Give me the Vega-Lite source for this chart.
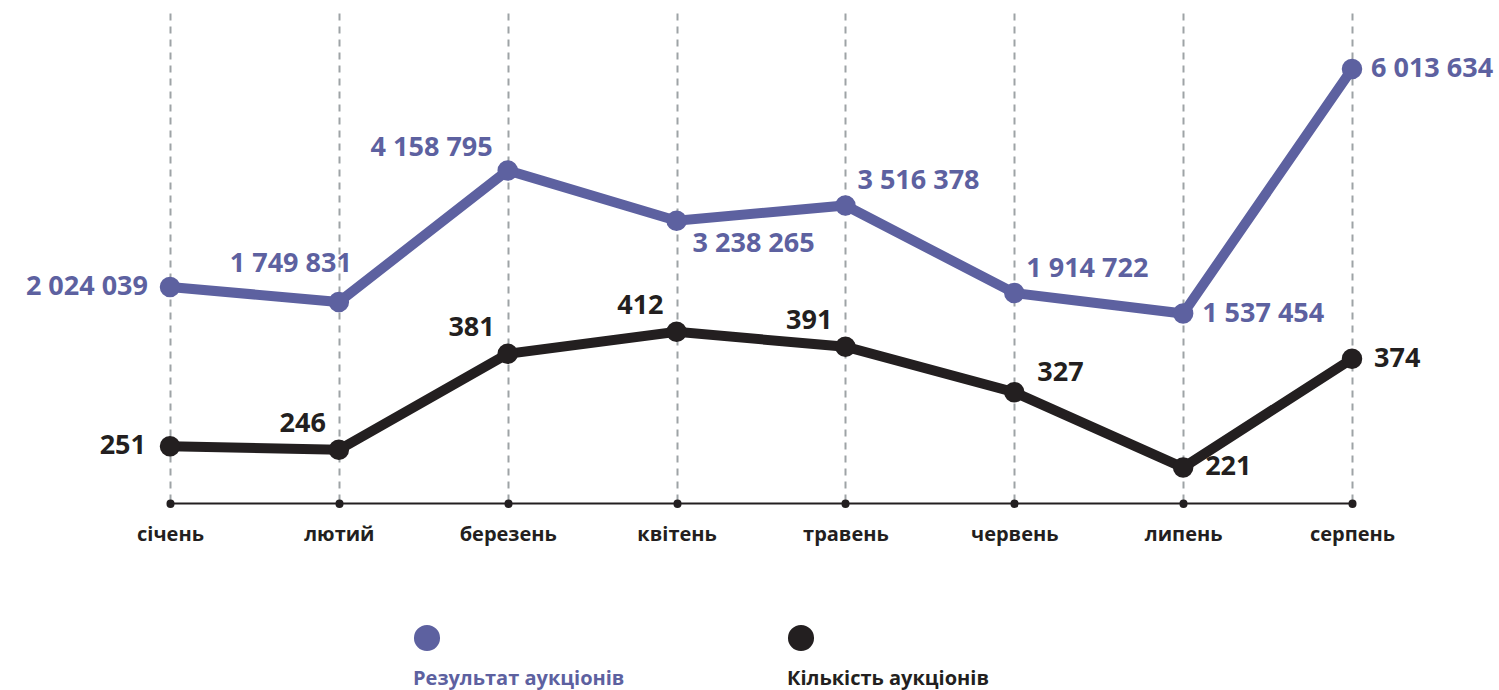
{
  "$schema": "https://vega.github.io/schema/vega-lite/v6.json",
  "padding": {"top": 13, "left": 0, "right": 0, "bottom": 0},
  "background": "white",
  "spacing": 39,
  "config": {
    "view": {"stroke": null},
    "locale": {"number": {"decimal": ",", "thousands": " ", "grouping": [3], "currency": ["", " грн"]}},
    "text": {"font": "Open Sans", "fontWeight": "bold", "fontSize": 27}
  },
  "vconcat": [
    {
      "width": 1499,
      "height": 490,
      "data": {"values": [
        {"month": "січень", "result": 2024039, "count": 251},
        {"month": "лютий", "result": 1749831, "count": 246},
        {"month": "березень", "result": 4158795, "count": 381},
        {"month": "квітень", "result": 3238265, "count": 412},
        {"month": "травень", "result": 3516378, "count": 391},
        {"month": "червень", "result": 1914722, "count": 327},
        {"month": "липень", "result": 1537454, "count": 221},
        {"month": "серпень", "result": 6013634, "count": 374}
      ]},
      "encoding": {
        "x": {
          "field": "month", "type": "ordinal", "sort": null,
          "scale": {"type": "point", "range": [170, 1352], "padding": 0},
          "axis": {
            "title": null, "labelAngle": 0,
            "domainColor": "#231f20", "domainWidth": 2,
            "tickColor": "#231f20", "tickWidth": 8, "tickSize": 0.5, "tickCap": "round",
            "grid": true, "gridColor": "#9ea3a6", "gridWidth": 2, "gridDash": [7, 6],
            "labelFont": "Open Sans", "labelFontWeight": "bold", "labelFontSize": 20,
            "labelColor": "#231f20", "labelPadding": 21
          }
        }
      },
      "layer": [
        {
          "encoding": {"y": {"field": "result", "type": "quantitative", "scale": {"domain": [-1930000, 7040000]}, "axis": null}},
          "layer": [
            {"mark": {"type": "line", "color": "#5d61a0", "strokeWidth": 10}},
            {"mark": {"type": "point", "filled": true, "opacity": 1, "color": "#5d61a0", "size": 420}},
            {"transform": [{"filter": {"field": "month", "oneOf": ["січень"]}}],
             "mark": {"type": "text", "color": "#5d61a0", "align": "right", "baseline": "middle", "dx": -22, "dy": 0},
             "encoding": {"text": {"field": "result", "type": "quantitative", "format": ",d"}}},
            {"transform": [{"filter": {"field": "month", "oneOf": ["лютий"]}}],
             "mark": {"type": "text", "color": "#5d61a0", "align": "right", "baseline": "middle", "dx": 13, "dy": -38},
             "encoding": {"text": {"field": "result", "type": "quantitative", "format": ",d"}}},
            {"transform": [{"filter": {"field": "month", "oneOf": ["березень"]}}],
             "mark": {"type": "text", "color": "#5d61a0", "align": "right", "baseline": "middle", "dx": -15, "dy": -22},
             "encoding": {"text": {"field": "result", "type": "quantitative", "format": ",d"}}},
            {"transform": [{"filter": {"field": "month", "oneOf": ["квітень"]}}],
             "mark": {"type": "text", "color": "#5d61a0", "align": "left", "baseline": "middle", "dx": 16, "dy": 23},
             "encoding": {"text": {"field": "result", "type": "quantitative", "format": ",d"}}},
            {"transform": [{"filter": {"field": "month", "oneOf": ["травень", "червень"]}}],
             "mark": {"type": "text", "color": "#5d61a0", "align": "left", "baseline": "middle", "dx": 12, "dy": -24},
             "encoding": {"text": {"field": "result", "type": "quantitative", "format": ",d"}}},
            {"transform": [{"filter": {"field": "month", "oneOf": ["липень", "серпень"]}}],
             "mark": {"type": "text", "color": "#5d61a0", "align": "left", "baseline": "middle", "dx": 19, "dy": 0},
             "encoding": {"text": {"field": "result", "type": "quantitative", "format": ",d"}}}
          ]
        },
        {
          "encoding": {"y": {"field": "count", "type": "quantitative", "scale": {"domain": [171, 861]}, "axis": null}},
          "layer": [
            {"mark": {"type": "line", "color": "#231f20", "strokeWidth": 10}},
            {"mark": {"type": "point", "filled": true, "opacity": 1, "color": "#231f20", "size": 420}},
            {"transform": [{"filter": {"field": "month", "oneOf": ["січень"]}}],
             "mark": {"type": "text", "color": "#231f20", "align": "right", "baseline": "middle", "dx": -24, "dy": 0},
             "encoding": {"text": {"field": "count", "type": "quantitative"}}},
            {"transform": [{"filter": {"field": "month", "oneOf": ["лютий", "березень", "квітень", "травень"]}}],
             "mark": {"type": "text", "color": "#231f20", "align": "right", "baseline": "middle", "dx": -13, "dy": -26},
             "encoding": {"text": {"field": "count", "type": "quantitative"}}},
            {"transform": [{"filter": {"field": "month", "oneOf": ["червень"]}}],
             "mark": {"type": "text", "color": "#231f20", "align": "left", "baseline": "middle", "dx": 23, "dy": -19},
             "encoding": {"text": {"field": "count", "type": "quantitative"}}},
            {"transform": [{"filter": {"field": "month", "oneOf": ["липень", "серпень"]}}],
             "mark": {"type": "text", "color": "#231f20", "align": "left", "baseline": "middle", "dx": 22, "dy": 0},
             "encoding": {"text": {"field": "count", "type": "quantitative"}}}
          ]
        }
      ],
      "resolve": {"scale": {"y": "independent"}}
    },
    {
      "width": 1499,
      "height": 108,
      "data": {"values": [
        {"series": "Результат аукціонів"},
        {"series": "Кількість аукціонів"}
      ]},
      "encoding": {
        "x": {"field": "series", "type": "nominal", "sort": null, "scale": {"type": "point", "range": [427, 801], "padding": 0}, "axis": null},
        "color": {"field": "series", "type": "nominal", "sort": null, "scale": {"range": ["#5d61a0", "#231f20"]}, "legend": null}
      },
      "layer": [
        {"mark": {"type": "point", "filled": true, "opacity": 1, "size": 680}},
        {"mark": {"type": "text", "align": "left", "baseline": "middle", "dx": -14, "dy": 41, "fontSize": 20},
         "encoding": {"text": {"field": "series"}}}
      ]
    }
  ]
}
